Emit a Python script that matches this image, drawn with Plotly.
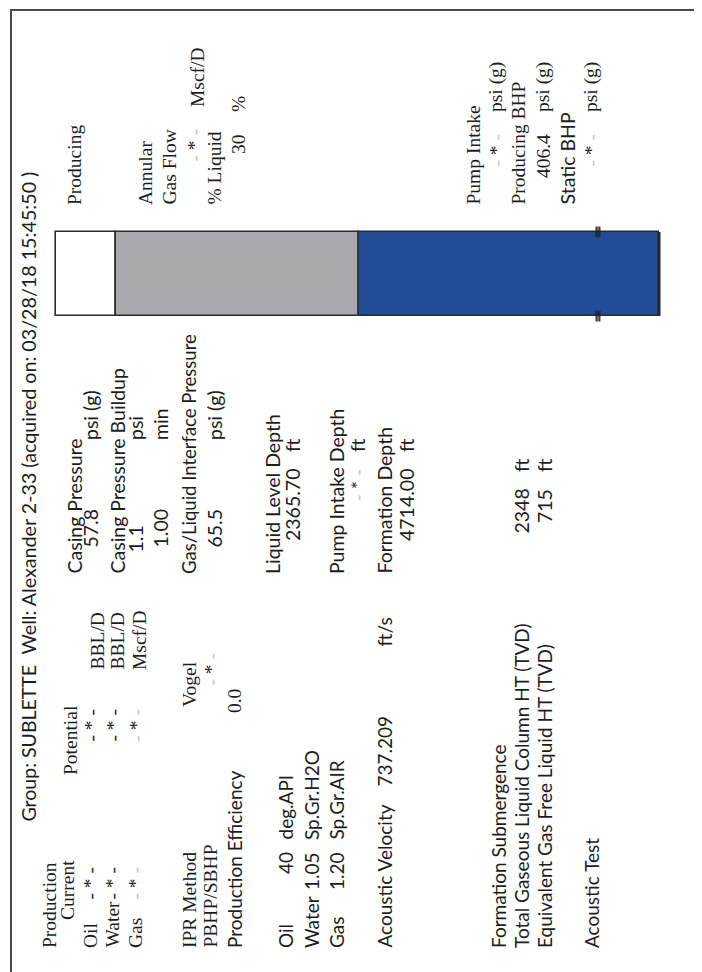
import plotly.graph_objects as go

# ---------------- data ----------------
group_name = "SUBLETTE"
well_name = "Alexander 2-33"
acquired_on = "03/28/18 15:45:50"

prod_rows = ["Oil", "Water", "Gas"]
prod_units = ["BBL/D", "BBL/D", "Mscf/D"]
prod_current = ["- * -", "- * -", "- * -"]
prod_potential = ["- * -", "- * -", "- * -"]

ipr_method = "Vogel"
pbhp_sbhp = "- * -"
production_efficiency = "0.0"

fluid_rows = ["Oil", "Water", "Gas"]
fluid_values = ["40", "1.05", "1.20"]
fluid_units = ["deg.API", "Sp.Gr.H2O", "Sp.Gr.AIR"]

acoustic_velocity = "737.209"
casing_pressure = "57.8"
buildup_psi = "1.1"
buildup_min = "1.00"
gas_liquid_interface_pressure = "65.5"
liquid_level_depth = "2365.70"
pump_intake_depth = "- * -"
formation_depth = "4714.00"
total_gaseous_column = "2348"
gas_free_liquid = "715"

annular_gas_flow = "- * -"
pct_liquid = "30"
pump_intake_psi = "- * -"
producing_bhp = "406.4"
static_bhp = "- * -"

# well bar (depth, ft)
segment_names = ["Top", "Gas column", "Liquid column"]
segment_top_ft = [0, 470, 2365.7]
segment_bottom_ft = [470, 2365.7, 4714.0]
segment_colors = ["#ffffff", "#a9a9ab", "#234e97"]
pump_marker_ft = 4237

# ---------------- figure ----------------
W, H = 702, 972
BAR_L, BAR_R, BAR_T, BAR_B = 48, 651, 224, 308   # pixel frame of the well bar
PAD = 12
fig = go.Figure()

seg_len = [b - t for t, b in zip(segment_top_ft, segment_bottom_ft)]
for name, base, ln, col in zip(segment_names, segment_top_ft, seg_len, segment_colors):
    fig.add_trace(go.Bar(
        x=[ln], y=[0], base=[base], orientation="h", name=name,
        marker=dict(color=col, line=dict(color="#2b2b2b", width=1.6)),
        xaxis="x2", yaxis="y2", width=1, showlegend=False, hoverinfo="skip"))

# pump marks on the bar edges
mx, my = [], []
for edge in (-0.5, 0.5):
    for off in (-14, 0, 14):
        mx.append(pump_marker_ft + off)
        my.append(edge)
fig.add_trace(go.Scatter(
    x=mx, y=my, mode="markers", xaxis="x2", yaxis="y2", showlegend=False,
    hoverinfo="skip",
    marker=dict(symbol="line-ns", size=8, line=dict(color="#222", width=1.3))))

# axis geometry for the bar (padding so the outline is not clipped)
ft_per_px = segment_bottom_ft[-1] / (BAR_R - BAR_L)
x2_range = [-PAD * ft_per_px, segment_bottom_ft[-1] + PAD * ft_per_px]
x2_domain = [(BAR_L - PAD) / W, (BAR_R + PAD) / W]
u_per_px = 1.0 / (BAR_B - BAR_T)
y2_range = [-0.5 - PAD * u_per_px, 0.5 + PAD * u_per_px]
y2_domain = [1 - (BAR_B + PAD) / H, 1 - (BAR_T - PAD) / H]

SERIF = "Liberation Serif"
SANS = "Lato"
INK = "#1d1d1d"
anns = []


def T(text, bx, y, anchor="s", fam=SERIF, size=19.5, color=INK):
    anns.append(dict(
        x=bx - 6, y=y, xref="x", yref="y", text=text, textangle=-90,
        showarrow=False, xanchor="center",
        yanchor="bottom" if anchor == "s" else "top",
        borderpad=0, font=dict(family=fam, size=size, color=color)))


def star(faded=False):
    if faded:
        return "<span style='color:#c4c4c4'>- </span>*<span style='color:#c4c4c4'> -</span>"
    return "- * -"


# header
T("Group: " + group_name, 26, 815, fam=SANS)
T("Well: " + well_name + " (acquired on: " + acquired_on + " )", 26, 648, fam=SANS, size=19.7)

# production block
T("Production", 47, 941)
T("Current", 65, 913)
T("Potential", 68, 768)
row_bx = [88, 110, 133]
unit_bx = [95, 115, 137]
for i, r in enumerate(prod_rows):
    T(r, row_bx[i], 941)
    T(star(i == 2), row_bx[i], 858, "e")
    T(star(i == 2), row_bx[i] + 1, 700, "e")
    T(prod_units[i], unit_bx[i], 663)

T("IPR Method", 187, 941)
T(ipr_method, 187, 700)
T("PBHP/SBHP", 208, 941)
T(star(True), 209, 644, "e")
T("Production Efficiency", 232, 941, fam=SANS, size=19)
T(production_efficiency, 232, 680, "e")

fl_bx = [283, 309, 334]
for i, r in enumerate(fluid_rows):
    T(r, fl_bx[i], 941, fam=SANS, size=19)
    T(fluid_values[i], fl_bx[i], 843, "e", fam=SANS, size=19)
    T(fluid_units[i], fl_bx[i], 833, "s", fam=SANS, size=19)

T("Acoustic Velocity", 382, 941, fam=SANS, size=19)
T(acoustic_velocity, 382, 707, "e", fam=SANS, size=19)
T("ft/s", 382, 640, fam=SANS, size=19)

T("Formation Submergence", 496, 941, fam=SANS, size=19)
T("Total Gaseous Liquid Column HT (TVD)", 519, 941, fam=SANS, size=19)
T("Equivalent Gas Free Liquid HT (TVD)", 542, 941, fam=SANS, size=19)
T("Acoustic Test", 589, 941, fam=SANS, size=19)

# middle block
T("Casing Pressure", 72, 567, fam=SANS)
T(casing_pressure, 88, 500, "e", fam=SANS)
T("psi (g)", 88, 433, fam=SANS)
T("Casing Pressure Buildup", 115, 567, fam=SANS)
T(buildup_psi, 133, 517, "e", fam=SANS)
T("psi", 133, 433, fam=SANS)
T(buildup_min, 158, 500, "e", fam=SANS)
T("min", 158, 433, fam=SANS)
T("Gas/Liquid Interface Pressure", 187, 567, fam=SANS, size=18.5)
T(gas_liquid_interface_pressure, 212, 500, "e", fam=SANS)
T("psi (g)", 212, 433, fam=SANS)

T("Liquid Level Depth", 270, 567, fam=SANS)
T(liquid_level_depth, 290, 460, "e", fam=SANS)
T("ft", 290, 445, fam=SANS)
T("Pump Intake Depth", 334, 567, fam=SANS)
T(star(True), 355, 460, "e", fam=SANS)
T("ft", 355, 445, fam=SANS)
T("Formation Depth", 382, 567, fam=SANS)
T(formation_depth, 404, 460, "e", fam=SANS)
T("ft", 404, 445, fam=SANS)

T(total_gaseous_column, 519, 480, "e", fam=SANS)
T("ft", 519, 465, fam=SANS)
T(gas_free_liquid, 542, 480, "e", fam=SANS)
T("ft", 542, 465, fam=SANS)

# right block
T("Producing", 72, 198)
T("Annular", 143, 198)
T("Gas Flow", 167, 198)
T(star(True), 192, 120, "e")
T("Mscf/D", 195, 100)
T("% Liquid", 212, 198)
T(pct_liquid, 236, 125, "e")
T("%", 236, 105)
T("Pump Intake", 471, 198)
T(star(True), 494, 125, "e")
T("psi (g)", 494, 105)
T("Producing BHP", 516, 198)
T(producing_bhp, 541, 125, "e")
T("psi (g)", 541, 105)
T("Static BHP", 565, 198, fam=SANS)
T(star(True), 589, 125, "e")
T("psi (g)", 589, 105)

fig.update_layout(
    width=W, height=H, margin=dict(l=0, r=0, t=0, b=0),
    paper_bgcolor="white", plot_bgcolor="rgba(0,0,0,0)",
    barmode="overlay", bargap=0,
    xaxis=dict(range=[0, W], visible=False, domain=[0, 1]),
    yaxis=dict(range=[H, 0], visible=False, domain=[0, 1]),
    xaxis2=dict(range=x2_range, visible=False, domain=x2_domain, anchor="y2"),
    yaxis2=dict(range=y2_range, visible=False, domain=y2_domain, anchor="x2"),
    annotations=anns,
    shapes=[dict(type="rect", xref="x", yref="y", x0=3, x1=697, y0=2, y1=967,
                 line=dict(color="#4a4a4a", width=2), layer="below"),
            dict(type="line", xref="x", yref="y", x0=BAR_R, x1=BAR_R,
                 y0=BAR_T, y1=BAR_B, line=dict(color="#1e2a3a", width=3))],
    showlegend=False,
)

fig.write_html("out.html")
